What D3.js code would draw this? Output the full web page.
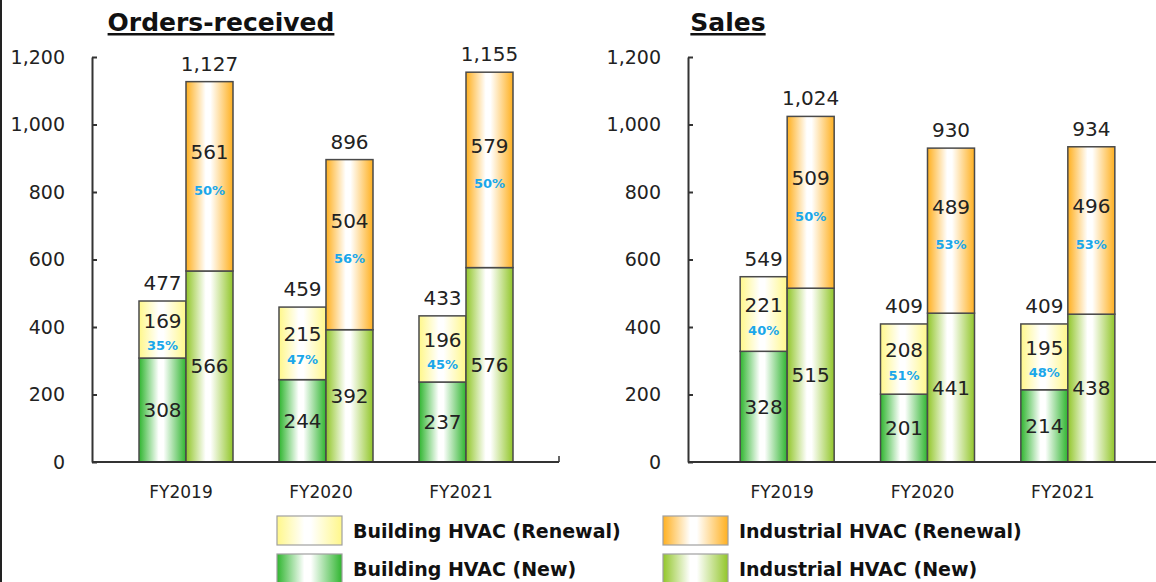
<!DOCTYPE html>
<html>
<head>
<meta charset="utf-8">
<script src="https://cdn.jsdelivr.net/npm/d3@7"></script>
<style>
  html, body { margin: 0; padding: 0; background: #fff; }
  svg { display: block; font-family: "DejaVu Sans", Verdana, sans-serif; }
</style>
</head>
<body>
<svg id="chart" width="1156" height="582"></svg>
<script>
// ---- data ----
const categories = ["FY2019", "FY2020", "FY2021"];
const yTicks = [0, 200, 400, 600, 800, 1000, 1200];

const ordersBuildingNew = [308, 244, 237];
const ordersBuildingRenewal = [169, 215, 196];
const ordersIndustrialNew = [566, 392, 576];
const ordersIndustrialRenewal = [561, 504, 579];
const ordersBuildingTotal = [477, 459, 433];
const ordersIndustrialTotal = [1127, 896, 1155];
const ordersBuildingRenewalPct = ["35%", "47%", "45%"];
const ordersIndustrialRenewalPct = ["50%", "56%", "50%"];

const salesBuildingNew = [328, 201, 214];
const salesBuildingRenewal = [221, 208, 195];
const salesIndustrialNew = [515, 441, 438];
const salesIndustrialRenewal = [509, 489, 496];
const salesBuildingTotal = [549, 409, 409];
const salesIndustrialTotal = [1024, 930, 934];
const salesBuildingRenewalPct = ["40%", "51%", "48%"];
const salesIndustrialRenewalPct = ["50%", "53%", "53%"];

const legendLabels = ["Building HVAC (Renewal)", "Building HVAC (New)", "Industrial HVAC (Renewal)", "Industrial HVAC (New)"];

// ---- styling ----
const colors = {
  bRen: "#fff78a",
  bNew: "#2fb52f",
  iRen: "#ffb020",
  iNew: "#92c62a"
};
const pctColor = "#1aa7ea";
const textColor = "#222";

const svg = d3.select("#chart");
const defs = svg.append("defs");
Object.entries(colors).forEach(([k, c]) => {
  const g = defs.append("linearGradient").attr("id", "grad-" + k)
    .attr("x1", "0%").attr("x2", "100%").attr("y1", "0%").attr("y2", "0%");
  g.append("stop").attr("offset", "0%").attr("stop-color", c);
  g.append("stop").attr("offset", "42%").attr("stop-color", "#ffffff");
  g.append("stop").attr("offset", "52%").attr("stop-color", "#ffffff");
  g.append("stop").attr("offset", "100%").attr("stop-color", c);
});

// left frame line
svg.append("line").attr("x1", 1).attr("x2", 1).attr("y1", 0).attr("y2", 582)
  .attr("stroke", "#222").attr("stroke-width", 2);

const yTop = 57, yBottom = 462;
const y = d3.scaleLinear().domain([0, 1200]).range([yBottom, yTop]);

function drawPanel(cfg) {
  const g = svg.append("g");
  // title
  g.append("text")
    .attr("x", cfg.titleX).attr("y", 31)
    .attr("text-anchor", "middle")
    .style("font-size", "25px").style("font-weight", "bold")
    .style("text-decoration", "underline")
    .attr("fill", "#111")
    .text(cfg.title);

  // y axis
  const axis = d3.axisLeft(y).tickValues(yTicks).tickFormat(d3.format(","))
    .tickSizeInner(-5).tickSizeOuter(0).tickPadding(27);
  const ax = g.append("g").attr("transform", `translate(${cfg.axisX},0)`).call(axis);
  ax.select(".domain").attr("stroke", "#333").attr("stroke-width", 2);
  ax.selectAll(".tick line").attr("stroke", "#333").attr("stroke-width", 2);
  ax.selectAll(".tick text").style("font-size", "19px").attr("fill", textColor)
    .style("font-family", "'DejaVu Sans', Verdana, sans-serif");

  // x scale
  const x0 = d3.scaleBand().domain(categories).range(cfg.xRange).paddingInner(0).paddingOuter(0);
  const groupW = 94;
  const xi = d3.scaleBand().domain(["b", "i"]).range([0, groupW]);
  const gx = c => x0(c) + (x0.bandwidth() - groupW) / 2;

  const segs = [];
  categories.forEach((c, i) => {
    segs.push({ c, key: "bNew", x: gx(c) + xi("b"), y0: 0, y1: cfg.bNew[i], val: cfg.bNew[i] });
    segs.push({ c, key: "bRen", x: gx(c) + xi("b"), y0: cfg.bNew[i], y1: cfg.bNew[i] + cfg.bRen[i], val: cfg.bRen[i], pct: cfg.bPct[i], nOff: -9, pOff: 16 });
    segs.push({ c, key: "iNew", x: gx(c) + xi("i"), y0: 0, y1: cfg.iNew[i], val: cfg.iNew[i] });
    segs.push({ c, key: "iRen", x: gx(c) + xi("i"), y0: cfg.iNew[i], y1: cfg.iNew[i] + cfg.iRen[i], val: cfg.iRen[i], pct: cfg.iPct[i], nOff: -24, pOff: 14 });
  });
  const bw = xi.bandwidth();
  g.selectAll("rect.seg").data(segs).join("rect").attr("class", "seg")
    .attr("x", d => d.x).attr("width", bw)
    .attr("y", d => y(d.y1)).attr("height", d => y(d.y0) - y(d.y1))
    .attr("fill", d => `url(#grad-${d.key})`)
    .attr("stroke", "#4a4a4a").attr("stroke-width", 1.5);

  g.selectAll("text.val").data(segs).join("text").attr("class", "val")
    .attr("x", d => d.x + bw / 2)
    .attr("y", d => (y(d.y0) + y(d.y1)) / 2 + (d.nOff || 0))
    .attr("text-anchor", "middle").attr("dominant-baseline", "central")
    .style("font-size", "20px").attr("fill", textColor)
    .text(d => d3.format(",")(d.val));

  g.selectAll("text.pct").data(segs.filter(d => d.pct)).join("text").attr("class", "pct")
    .attr("x", d => d.x + bw / 2)
    .attr("y", d => (y(d.y0) + y(d.y1)) / 2 + d.pOff)
    .attr("text-anchor", "middle").attr("dominant-baseline", "central")
    .style("font-size", "13px").style("font-weight", "bold").attr("fill", pctColor)
    .text(d => d.pct);

  // totals
  const totals = [];
  categories.forEach((c, i) => {
    totals.push({ x: gx(c) + xi("b") + bw / 2, v: cfg.bTot[i] });
    totals.push({ x: gx(c) + xi("i") + bw / 2, v: cfg.iTot[i] });
  });
  g.selectAll("text.tot").data(totals).join("text").attr("class", "tot")
    .attr("x", d => d.x).attr("y", d => y(d.v) - 18)
    .attr("text-anchor", "middle").attr("dominant-baseline", "central")
    .style("font-size", "20px").attr("fill", textColor)
    .text(d => d3.format(",")(d.v));

  // category labels
  g.selectAll("text.cat").data(categories).join("text").attr("class", "cat")
    .attr("x", c => x0(c) + x0.bandwidth() / 2 - 5).attr("y", 492)
    .attr("text-anchor", "middle").attr("dominant-baseline", "central")
    .style("font-size", "17px").attr("fill", textColor)
    .text(c => c);

  // baseline
  g.append("line").attr("x1", cfg.axisX).attr("x2", cfg.baseEnd)
    .attr("y1", y(0)).attr("y2", y(0)).attr("stroke", "#333").attr("stroke-width", 2);
  if (cfg.endTick) {
    g.append("line").attr("x1", cfg.baseEnd).attr("x2", cfg.baseEnd)
      .attr("y1", y(0)).attr("y2", y(0) - 6).attr("stroke", "#333").attr("stroke-width", 1.5);
  }
}

drawPanel({
  title: "Orders-received", titleX: 221, axisX: 92, xRange: [116, 536], baseEnd: 559, endTick: true,
  bNew: ordersBuildingNew, bRen: ordersBuildingRenewal, iNew: ordersIndustrialNew, iRen: ordersIndustrialRenewal,
  bTot: ordersBuildingTotal, iTot: ordersIndustrialTotal, bPct: ordersBuildingRenewalPct, iPct: ordersIndustrialRenewalPct
});
drawPanel({
  title: "Sales", titleX: 728, axisX: 688, xRange: [717, 1138], baseEnd: 1156, endTick: false,
  bNew: salesBuildingNew, bRen: salesBuildingRenewal, iNew: salesIndustrialNew, iRen: salesIndustrialRenewal,
  bTot: salesBuildingTotal, iTot: salesIndustrialTotal, bPct: salesBuildingRenewalPct, iPct: salesIndustrialRenewalPct
});

// legend
const legendItems = [
  { label: legendLabels[0], key: "bRen", x: 277, y: 516 },
  { label: legendLabels[1], key: "bNew", x: 277, y: 554 },
  { label: legendLabels[2], key: "iRen", x: 663, y: 516 },
  { label: legendLabels[3], key: "iNew", x: 663, y: 554 }
];
const lg = svg.append("g").selectAll("g").data(legendItems).join("g")
  .attr("transform", d => `translate(${d.x},${d.y})`);
lg.append("rect").attr("width", 65).attr("height", 29)
  .attr("fill", d => `url(#grad-${d.key})`).attr("stroke", "#a0a0a0").attr("stroke-width", 1.2);
lg.append("text").attr("x", 76).attr("y", 14.5).attr("dominant-baseline", "central")
  .style("font-size", "19px").style("font-weight", "bold").attr("fill", "#111")
  .text(d => d.label);
</script>
</body>
</html>
